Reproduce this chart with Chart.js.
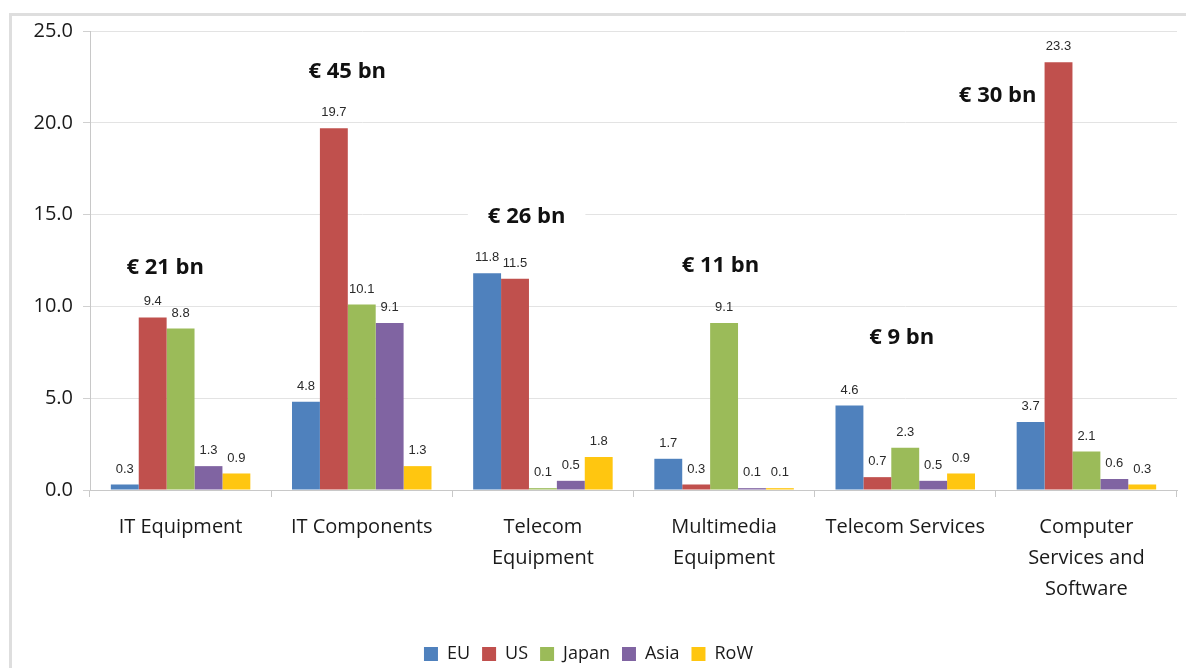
<!DOCTYPE html>
<html>
<head>
<meta charset="utf-8">
<script src="https://cdn.jsdelivr.net/npm/chart.js@4/dist/chart.umd.min.js"></script>
<style>
  html, body { margin: 0; padding: 0; background: #fff; }
  .wrap { position: relative; width: 1186px; height: 668px; overflow: hidden; }
  .frame { position: absolute; left: 9px; top: 13px; width: 1300px; height: 800px;
           border-top: 3px solid #dedede; border-left: 3px solid #dedede; }
  canvas { position: absolute; left: 0; top: 0; }
</style>
</head>
<body>
<div class="wrap">
  <div class="frame"></div>
  <canvas id="myChart" width="1186" height="668"></canvas>
</div>
<script>
// data
const categories = ['IT Equipment', 'IT Components', ['Telecom', 'Equipment'], ['Multimedia', 'Equipment'],
    'Telecom Services', ['Computer', 'Services and', 'Software']];
const seriesNames = ['EU', 'US', 'Japan', 'Asia', 'RoW'];
const euValues = [0.3, 4.8, 11.8, 1.7, 4.6, 3.7];
const usValues = [9.4, 19.7, 11.5, 0.3, 0.7, 23.3];
const japanValues = [8.8, 10.1, 0.1, 9.1, 2.3, 2.1];
const asiaValues = [1.3, 9.1, 0.5, 0.1, 0.5, 0.6];
const rowValues = [0.9, 1.3, 1.8, 0.1, 0.9, 0.3];
const yTicks = [0, 5, 10, 15, 20, 25];

// totals written above each group
const totalLabels = ['€ 21 bn', '€ 45 bn', '€ 26 bn', '€ 11 bn', '€ 9 bn', '€ 30 bn'];
const totalAtValue = [12.1, 22.8, 14.9, 12.2, 8.3, 21.5];
const totalShift = [-0.085, -0.08, -0.09, -0.02, -0.02, -0.49]; // share of a category width

const colors = ['#4f81bd', '#c0504d', '#9bbb59', '#8064a2', '#ffc610'];
const allValues = [euValues, usValues, japanValues, asiaValues, rowValues];

const PLOT_LEFT = 90;
const PLOT_BOTTOM = 490;
const LEGEND_DROP = 5;
const FONT = '"Open Sans", sans-serif';
const TOTAL_FONT = 'bold 22px ' + FONT;

document.addEventListener('DOMContentLoaded', () => {
    const ctx = document.getElementById('myChart').getContext('2d');

    const totalsPlugin = {
        id: 'totals',
        beforeDatasetsDraw(chart) {
            // white boxes break the gridlines behind the totals
            const c = chart.ctx;
            const x = chart.scales.x, y = chart.scales.y;
            const cw = (x.right - x.left) / categories.length;
            c.save();
            c.font = TOTAL_FONT;
            totalLabels.forEach((t, i) => {
                const px = x.getPixelForValue(i) + totalShift[i] * cw;
                const py = y.getPixelForValue(totalAtValue[i]);
                const w = c.measureText(t).width;
                c.fillStyle = '#fff';
                c.fillRect(px - w / 2 - 20, py - 16, w + 40, 32);
            });
            c.restore();
        },
        afterDatasetsDraw(chart) {
            const c = chart.ctx;
            const x = chart.scales.x, y = chart.scales.y;
            const cw = (x.right - x.left) / categories.length;
            c.save();
            // value labels over bars
            c.font = '13px "Liberation Sans", Arial, sans-serif';
            c.fillStyle = '#2a2a2a';
            c.textAlign = 'center';
            c.textBaseline = 'bottom';
            chart.data.datasets.forEach((ds, di) => {
                chart.getDatasetMeta(di).data.forEach((bar, i) => {
                    c.fillText(ds.data[i].toFixed(1), bar.x, bar.y - 9);
                });
            });
            // totals
            c.font = TOTAL_FONT;
            c.fillStyle = '#111';
            c.textBaseline = 'middle';
            totalLabels.forEach((t, i) => {
                const px = x.getPixelForValue(i) + totalShift[i] * cw;
                const py = y.getPixelForValue(totalAtValue[i]);
                c.fillText(t, px, py);
            });
            c.restore();
        }
    };

    new Chart(ctx, {
        type: 'bar',
        data: {
            labels: categories,
            datasets: seriesNames.map((name, i) => ({
                label: name,
                data: allValues[i],
                backgroundColor: colors[i],
                borderWidth: 0,
                categoryPercentage: 0.77,
                barPercentage: 1.0
            }))
        },
        options: {
            responsive: false,
            animation: false,
            layout: { padding: { top: 31, right: 9, bottom: -LEGEND_DROP, left: 0 } },
            plugins: {
                tooltip: { enabled: false },
                legend: {
                    position: 'bottom',
                    labels: {
                        boxWidth: 14,
                        boxHeight: 14,
                        padding: 12,
                        color: '#1a1a1a',
                        font: { family: FONT, size: 18 }
                    }
                }
            },
            scales: {
                x: {
                    afterFit: (s) => {
                        const lg = s.chart.legend;
                        s.height = s.chart.height + LEGEND_DROP - (lg ? lg.height : 0) - PLOT_BOTTOM;
                    },
                    grid: {
                        drawOnChartArea: false,
                        tickLength: 7,
                        tickColor: '#c8c8c8',
                        offset: true
                    },
                    border: { color: '#c8c8c8' },
                    ticks: {
                        padding: 15,
                        color: '#1a1a1a',
                        maxRotation: 0,
                        autoSkip: false,
                        font: { family: FONT, size: 20, lineHeight: 31 / 20 }
                    }
                },
                y: {
                    min: 0,
                    max: 25,
                    afterFit: (s) => { s.width = PLOT_LEFT; },
                    afterBuildTicks: (s) => { s.ticks = yTicks.map(v => ({ value: v })); },
                    grid: { color: '#e3e3e3', tickLength: 7, tickColor: '#d0d0d0' },
                    border: { color: '#c8c8c8' },
                    ticks: {
                        padding: 10,
                        color: '#1a1a1a',
                        font: { family: FONT, size: 20 },
                        callback: (v) => Number(v).toFixed(1)
                    }
                }
            }
        },
        plugins: [totalsPlugin]
    });
});
</script>
</body>
</html>
